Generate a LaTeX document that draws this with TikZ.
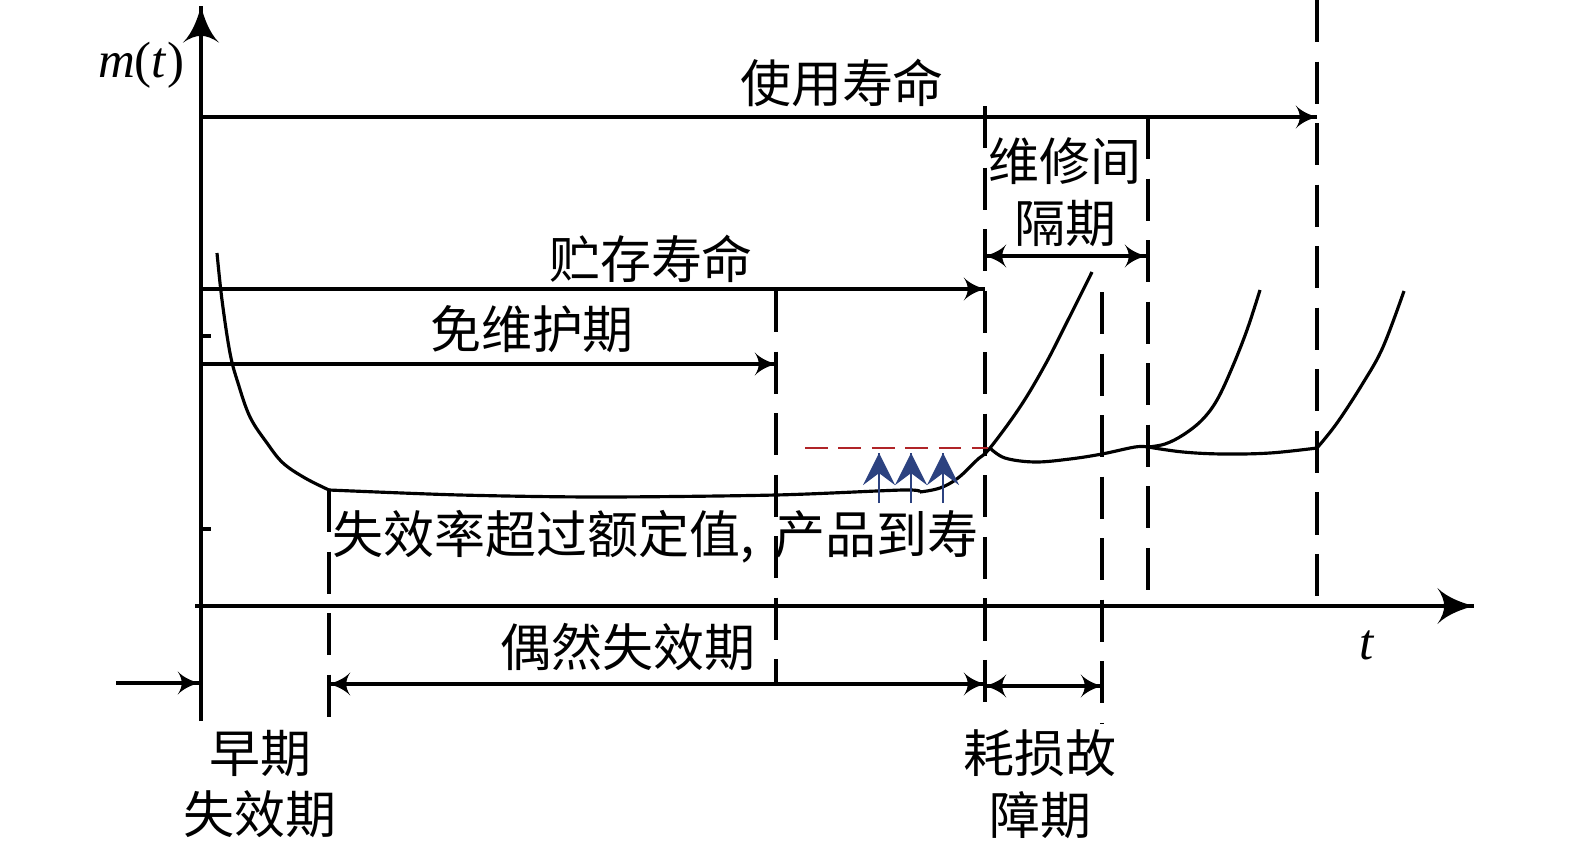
\documentclass[tikz,border=0pt]{standalone}
\usepackage{fontspec}
\setmainfont{Liberation Serif}
\newfontfamily\cjk{Noto Sans CJK SC}
\usetikzlibrary{arrows}
\usetikzlibrary{decorations.markings}
\definecolor{limitred}{RGB}{176,36,40}
\definecolor{risenavy}{RGB}{44,66,128}
\tikzset{->/.style = {decoration={markings,
                                  mark=at position 1 with {\arrow[xscale=1.1, yscale=1.6]{latex'}}},
                      postaction={decorate}}}
\tikzset{<->/.style = {decoration={markings,
                                   mark=at position 0 with {\arrowreversed[xscale=1.1, yscale=1.6]{latex'}},
                                   mark=at position 1 with {\arrow[xscale=1.1, yscale=1.6]{latex'}}},
                       postaction={decorate}}}
\tikzset{axis/.style = {decoration={markings,
                                    mark=at position 1 with {\arrow[xscale=1.9, yscale=2.5]{latex'}}},
                        postaction={decorate}}}
\tikzset{rise/.style = {risenavy, line width=0.8pt,
                        decoration={markings,
                                    mark=at position 1 with {\arrow[xscale=2.2, yscale=2.2]{stealth}}},
                        postaction={decorate}}}
\tikzset{guide/.style = {dash pattern=on 12pt off 5.5pt}}
\tikzset{cn/.style = {font=\cjk\fontsize{14.5}{17.5}\selectfont, inner sep=0pt, align=center}}

\begin{document}
\begin{tikzpicture}[x=0.01cm, y=-0.01cm, line width=0.9pt]
      \useasboundingbox (0, 0) rectangle (1575, 848);

      % axes
      \coordinate (ybot) at (201, 721);
      \coordinate (ytop) at (201, 6);
      \coordinate (xbeg) at (195, 606);
      \coordinate (xend) at (1474, 606);
      \draw [axis] (ybot) -- (ytop);
      \draw [axis] (xbeg) -- (xend);
      \draw (201, 336) -- (211, 336);
      \draw (201, 529) -- (211, 529);
      \node (mlab) at (141, 65) {\fontsize{14.5}{17}\selectfont\textit{m}(\textit{t})};
      \node (tlab) at (1367, 645) {\fontsize{14.5}{17}\selectfont\textit{t}};

      % period boundaries
      \coordinate (b1t) at (329, 490);  \coordinate (b1b) at (329, 721);
      \coordinate (b2t) at (776, 290);  \coordinate (b2b) at (776, 685);
      \coordinate (b3t) at (985, 106);  \coordinate (b3b) at (985, 703);
      \coordinate (b4t) at (1102, 292); \coordinate (b4b) at (1102, 723);
      \coordinate (b5t) at (1148, 117); \coordinate (b5b) at (1148, 606);
      \coordinate (b6t) at (1317, 0);   \coordinate (b6b) at (1317, 606);
      \foreach \b in {b1, b2, b3, b4, b5, b6}
        \draw [guide] (\b t) -- (\b b);

      % life spans
      \coordinate (uses) at (201, 117);  \coordinate (usee) at (1317, 117);
      \coordinate (stos) at (201, 289);  \coordinate (stoe) at (985, 289);
      \coordinate (frees) at (201, 364); \coordinate (freee) at (776, 364);
      \coordinate (maints) at (985, 256); \coordinate (mainte) at (1146, 256);
      \draw [->] (uses) -- (usee);
      \draw [->] (stos) -- (stoe);
      \draw [->] (frees) -- (freee);
      \draw [<->] (maints) -- (mainte);
      \node [cn] (uselab) at (842, 83) {使用寿命};
      \node [cn] (stolab) at (651, 259) {贮存寿命};
      \node [cn] (freelab) at (532, 329) {免维护期};
      \node [cn] (maintlab) at (1065, 192) {维修间\\隔期};

      % failure periods
      \coordinate (earlys) at (116, 683); \coordinate (earlye) at (199, 683);
      \coordinate (rands) at (329, 684);  \coordinate (rande) at (985, 684);
      \coordinate (wears) at (985, 686);  \coordinate (weare) at (1102, 686);
      \draw [->] (earlys) -- (earlye);
      \draw [<->] (rands) -- (rande);
      \draw [<->] (wears) -- (weare);
      \node [cn] (randlab) at (628, 647) {偶然失效期};
      \node [cn] (earlylab) at (260, 784) {早期\\失效期};
      \node [cn] (wearlab) at (1040, 784) {耗损故\\障期};

      % failure rate curve
      \draw plot [smooth, tension=0.6] coordinates {(217, 253) (222, 300) (230, 353)
        (238, 383) (250, 417) (267, 443) (283, 463) (305, 478) (329, 490)};
      \draw plot [smooth, tension=0.5] coordinates {(329, 490) (460, 495) (600, 497)
        (776, 495) (903, 490) (920, 492)};
      \draw plot [smooth, tension=0.6] coordinates {(920, 492) (940, 488) (958, 478)
        (977, 460) (990, 448) (1020, 407) (1045, 365) (1068, 320) (1092, 272)};
      \draw plot [smooth, tension=0.6] coordinates {(990, 448) (1005, 458) (1035, 462)
        (1070, 459) (1102, 454) (1135, 447) (1148, 447)};
      \draw plot [smooth, tension=0.6] coordinates {(1148, 447) (1165, 444) (1183, 435)
        (1202, 420) (1217, 400) (1232, 368) (1247, 330) (1260, 290)};
      \draw plot [smooth, tension=0.6] coordinates {(1148, 447) (1183, 452) (1223, 454)
        (1270, 453) (1317, 448)};
      \draw plot [smooth, tension=0.6] coordinates {(1317, 448) (1337, 423) (1363, 383)
        (1383, 347) (1404, 291)};

      % rated limit
      \coordinate (lims) at (805, 448); \coordinate (lime) at (988, 448);
      \draw [limitred, line width=0.7pt, dash pattern=on 6.5pt off 3pt] (lims) -- (lime);
      \foreach \x [count=\i] in {879, 911, 943} {
        \coordinate (up\i s) at (\x, 503);
        \coordinate (up\i e) at (\x, 453);
        \draw [rise] (up\i s) -- (up\i e);
      }
      \node [cn, anchor=west] (limlab) at (331, 537) {失效率超过额定值,\hspace{0.2cm}产品到寿};
    \end{tikzpicture}
\end{document}
